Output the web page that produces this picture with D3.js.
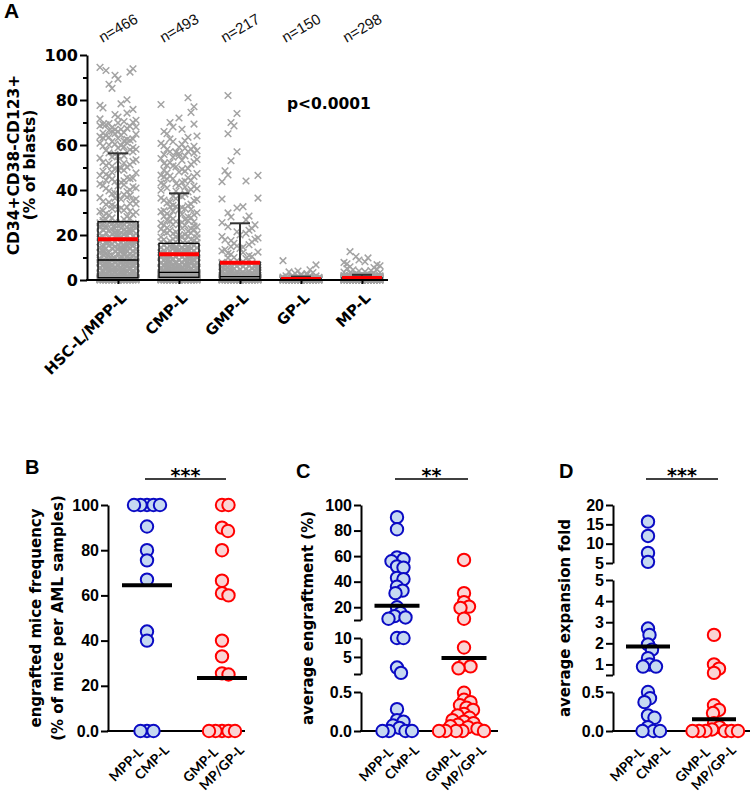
<!DOCTYPE html>
<html><head><meta charset="utf-8">
<script src="https://cdn.jsdelivr.net/npm/d3@7"></script>
<style>body{margin:0;background:#fff}svg{display:block}</style>
</head><body>
<script>
// ---------------- DATA : panel A ----------------
const catsA = ["HSC-L/MPP-L","CMP-L","GMP-L","GP-L","MP-L"];
const nA = ["n=466","n=493","n=217","n=150","n=298"];
const ticksA = [0,20,40,60,80,100];
const minorA = [10,30,50,70,90];
const boxQ1 = [1,1.2,0.3,0.05,0.1];
const boxMed = [8.9,3.4,1.5,0.2,0.3];
const boxQ3 = [25.9,16.3,8,0.7,1];
const whiskHi = [56.3,38.5,25.2,1.5,2.3];
const meanA = [18.1,11.4,7.7,0.5,0.9];
const pValue = "p<0.0001";

const hscL = [
0,0,0,0,0,0,0,0,0,0,0,0,0,0,0,0,0,0,
0.1,0.1,0.1,0.1,0.1,0.1,0.1,0.1,0.1,
0.2,0.2,0.2,0.2,0.2,0.2,0.2,0.2,0.2,0.2,
0.3,0.3,0.3,0.3,0.3,0.3,0.3,0.3,0.3,
0.4,0.4,0.4,0.4,0.4,0.4,0.4,0.4,0.4,0.4,
0.5,0.5,0.5,0.5,0.5,0.5,0.5,0.5,0.5,0.5,0.5,
0.6,0.6,0.6,0.6,0.6,0.6,0.6,0.6,0.6,
0.7,0.7,0.7,0.7,0.7,0.7,0.7,0.7,0.7,0.7,
0.8,0.8,0.8,0.8,0.8,0.8,0.8,0.8,0.8,
0.9,0.9,0.9,0.9,0.9,0.9,0.9,0.9,0.9,0.9,
1,1,1,1,1,1,1,1,1,1,
1.2,1.3,1.4,1.5,1.5,1.7,1.8,1.9,2,2.1,2.2,2.3,2.5,2.6,2.7,2.8,3,3.1,3.2,3.3,
3.4,3.6,3.7,3.8,3.9,4,4.1,4.2,4.4,4.5,4.6,4.7,4.8,5,5.1,5.2,5.3,5.4,5.6,5.7,
5.8,5.9,6,6.1,6.3,6.4,6.5,6.6,6.7,6.9,7,7.1,7.2,7.3,7.5,7.6,7.7,7.8,7.9,8,
8.1,8.3,8.4,8.5,8.6,8.7,8.8,8.9,1.1,1.6,2.4,2.9,3.5,4.3,4.9,5.5,6.2,6.8,7.4,8.2,
1.8,2.5,3.4,4.2,5,5.7,6.4,7.2,8.1,8.9,
9.1,9.3,9.5,9.8,10,10.2,10.5,10.7,11,11.3,11.5,11.8,12,12.3,12.6,12.9,13.1,13.4,13.7,14,
14.2,14.5,14.8,15,15.3,15.6,15.9,16.1,16.4,16.7,17,17.2,17.5,17.8,18,18.3,18.6,18.9,19.1,19.4,
19.7,20,20.2,20.5,20.8,21,21.3,21.6,21.9,22.1,22.4,22.7,23,23.2,23.5,23.8,24,24.3,24.6,24.9,
25.1,25.4,25.7,26,9.6,10.4,11.2,12.1,13,13.8,14.6,15.5,16.3,17.1,18,18.8,19.6,20.5,21.4,22.2,
23.1,23.9,24.8,25.6,9.4,10.9,12.5,14.1,15.8,17.3,19,20.6,22.3,23.9,25.5,10.1,11.9,13.6,15.4,17.2,
19.3,21.1,22.9,24.7,11.4,14.4,18.2,21.8,25.2,12.8,16.9,20.9,24.4,13.3,16.6,19.9,23.4,
26.4,27,27.6,28.2,28.9,29.5,30.1,30.8,31.4,32,32.7,33.3,34,34.6,35.3,36,36.6,37.3,38,38.6,
39.3,40,40.7,41.4,42,42.7,43.4,44.1,44.8,45.5,46.2,46.9,47.6,48.3,49,49.7,50.5,51.2,51.9,52.7,
53.4,54.2,55,55.8,27.3,29.1,31,33.6,35.9,38.3,40.9,43.7,46.5,49.4,52.3,55.2,28,30.4,32.4,34.9,
37.6,41.8,45,48.8,53,26.9,31.7,36.3,44.3,50.9,
30.5,33.8,36.8,39.6,42.3,45.3,47.9,50.2,52,54.7,56.9,57.9,58.9,59.5,60.8,61.8,62.5,63.5,64.1,64.8,
65.3,66,67,67.8,68.3,69,69.5,70.1,
56.5,57,57.6,58.1,58.7,59.2,59.8,60.4,61,61.5,62.1,62.7,63.2,63.8,64.4,65,65.6,66.2,66.8,67.4,
68,68.6,69.2,69.8,70.4,71,71.6,72.4,73.5,74.2,75.8,76.5,77.6,78.3,80.1,85.2,87,89.3,91,92.4,
93.1,93.9,94.5,66.5,63,60
];

const cmpL = [
0,0,0,0,0,0,0,0,0,0,0,0,0,0,0,0,0,0,0,0,0,0,
0.1,0.1,0.1,0.1,0.1,0.1,0.1,0.1,0.1,0.1,
0.2,0.2,0.2,0.2,0.2,0.2,0.2,0.2,0.2,0.2,
0.3,0.3,0.3,0.3,0.3,0.3,0.3,0.3,0.3,0.3,
0.4,0.4,0.4,0.4,0.4,0.4,0.4,0.4,0.4,0.4,
0.5,0.5,0.5,0.5,0.5,0.5,0.5,0.5,0.5,0.5,
0.6,0.6,0.6,0.6,0.6,0.6,0.6,0.6,0.6,
0.7,0.7,0.7,0.7,0.7,0.7,0.7,0.7,0.7,
0.8,0.8,0.8,0.8,0.8,0.8,0.8,0.8,0.8,
0.9,0.9,0.9,0.9,0.9,0.9,0.9,0.9,0.9,
1,1,1,1,1,1,1,1,1,
1.1,1.1,1.1,1.1,1.1,1.1,
1.2,1.2,1.2,1.2,1.3,1.3,1.3,1.3,1.4,1.4,1.4,1.4,1.5,1.5,1.5,1.5,
1.6,1.6,1.6,1.6,1.7,1.7,1.7,1.7,1.8,1.8,1.8,1.8,
1.9,1.9,1.9,1.9,1.9,1.9,1.9,
2,2,2,2,2,2,2,
2.1,2.1,2.1,2.1,2.1,2.1,
2.2,2.2,2.2,2.2,2.2,2.2,
2.3,2.3,2.3,2.3,2.3,2.3,
2.4,2.4,2.4,2.4,2.4,2.4,
2.5,2.5,2.5,2.5,2.5,2.5,
2.6,2.6,2.6,2.6,2.6,
2.7,2.7,2.7,2.7,2.7,
2.8,2.8,2.8,2.8,2.8,
2.9,2.9,2.9,2.9,2.9,
3,3,3,3,3,3.2,3.3,
3.5,3.6,3.7,3.8,3.9,4,4.1,4.2,4.3,4.4,4.5,4.6,4.7,4.8,4.9,5,5.1,5.2,5.3,5.5,
5.6,5.7,5.8,6,6.1,6.2,6.3,6.5,6.6,6.7,6.9,7,7.1,7.3,7.4,7.5,7.7,7.8,8,8.1,
8.2,8.4,8.5,8.7,8.8,9,9.1,9.3,9.4,9.6,9.7,9.9,10,10.2,10.4,10.5,10.7,10.8,11,11.2,
11.3,11.5,11.7,11.8,12,12.2,12.4,12.5,12.7,12.9,13.1,13.2,13.4,13.6,13.8,14,14.2,14.3,14.5,14.7,
14.9,15.1,15.3,15.5,15.7,15.9,16.1,16.3,3.6,4.2,4.9,5.4,6.4,7.2,8.3,9.5,10.6,11.9,
13,14.4,15.6,3.9,4.4,5.9,6.8,8.6,10.1,12.1,14.1,3.7,4.6,5.2,6.2,7.6,9.2,11.4,13.5,15.2,
4.1,5.8,7.9,10.9,13.9,
16.6,17,17.3,17.7,18,18.4,18.7,19.1,19.5,19.8,20.2,20.6,20.9,21.3,21.7,22,22.4,22.8,23.2,23.6,
24,24.4,24.8,25.2,25.6,26,26.4,26.8,27.2,27.7,28.1,28.5,29,29.4,29.9,30.3,30.8,31.2,31.7,32.2,
32.7,33.2,33.7,34.2,34.7,35.3,35.8,36.4,37,37.6,38.2,17.5,19.3,21,22.6,24.2,26.2,28.3,30.6,33,
35.5,18.2,20.4,23,25.9,29.2,32.5,36.1,17.9,21.5,26.6,31.4,37.3,19.6,24.6,
39.5,40.2,41.7,42.4,43.1,44,45.4,46.2,47.6,49.2,50.7,52.2,53.6,55,56.8,58.2,59.4,60.7,61.9,63.4,
40.9,46,51.4,57.1,
81,78,77,74.5,72,70,69.3,68,67,66,65,64,62.7,61.5,60.3,59.7,59,58.5,58,57.5,
57,56.4,55.8,55.2,54.6,54,53.2,52.5,51.8,51,50.3,49.6,48.8,48,47.3,46.6,45.8,45,44.3,43.5,
42.8,42,41.3,40.6,39.9,39.2,48.4,44.9,56.2
];

const gmpL = [
0,0,0,0,0,0,0,0,0,0,0,0,0,0,0,0,0,0,0,0,0,0,0,0,
0.1,0.1,0.1,0.1,0.1,0.1,0.1,0.1,0.1,0.1,0.1,0.1,0.1,0.1,0.1,
0.2,0.2,0.2,0.2,0.2,0.2,0.2,0.2,0.2,0.2,0.2,0.2,0.2,0.2,0.2,
0.3,0.3,0.3,0.3,0.3,0.3,0.4,0.4,0.4,0.4,0.4,0.4,0.5,0.5,0.5,0.5,0.5,0.5,
0.6,0.6,0.6,0.6,0.6,0.7,0.7,0.7,0.7,0.7,0.8,0.8,0.8,0.8,0.8,0.9,0.9,0.9,0.9,0.9,
1,1,1,1,1,1.1,1.1,1.1,1.2,1.2,1.2,1.3,1.3,1.3,1.4,1.4,1.4,
1.6,1.7,1.8,1.9,2,2.1,2.3,2.4,2.5,2.7,2.8,3,3.1,3.3,3.4,3.6,3.7,3.9,4,4.2,
4.3,4.5,4.6,4.8,5,5.1,5.3,5.5,5.6,5.8,6,6.2,6.3,6.5,6.7,6.9,7.1,7.3,7.5,7.7,
7.9,1.6,2,2.6,3.2,3.8,4.4,5.2,5.9,6.6,7.4,2.2,4.1,6.1,
8.2,8.6,9,9.5,10,10.4,10.9,11.4,11.9,12.4,12.9,13.5,14,14.6,15.1,15.7,16.3,16.9,17.5,18.1,
18.7,19.3,20,20.7,21.4,22.1,22.9,23.7,24.5,9.8,12.2,14.8,17.8,
82,74,70,68.5,65,57,53,48.5,46.7,46.5,44,43.7,36.4,36,32.6,32,29.8,28.4,28,26.7,25.5
];

const gpL = [
0,0,0,0,0,0,0,0,0,0,0,0,0,0,0,0,0,0,0,0,0,0,0,0,0,0,0,0,0,0,0,0,0,0,0,0,0,
0.1,0.1,0.1,0.1,0.1,0.1,0.1,0.1,0.1,0.1,0.1,0.1,0.1,0.1,0.1,0.1,0.1,0.1,0.1,0.1,
0.2,0.2,0.2,0.2,0.2,0.2,0.2,0.2,0.2,0.2,0.2,0.2,0.2,0.2,0.2,0.2,0.2,
0.3,0.3,0.3,0.3,0.3,0.3,0.3,0.3,0.3,0.3,0.3,0.3,0.3,0.3,
0.4,0.4,0.4,0.4,0.4,0.4,0.4,0.4,0.4,0.4,
0.5,0.5,0.5,0.5,0.5,0.5,0.5,0.5,0.5,
0.6,0.6,0.6,0.6,0.6,0.6,0.7,0.7,0.7,0.7,0.7,0.8,0.8,0.8,0.8,0.8,
0.9,0.9,0.9,0.9,1,1,1,1.1,1.2,1.3,1.4,1.5,
1.6,1.7,1.8,1.9,2.1,2.3,2.5,2.8,3,3.3,3.6,4,4.5,6.7,8.6
];

const mpL = [
0,0,0,0,0,0,0,0,0,0,0,0,0,0,0,0,0,0,0,0,0,0,0,0,0,0,0,0,0,0,
0,0,0,0,0,0,0,0,0,0,0,0,0,0,0,0,0,0,0,0,0,0,0,0,0,0,0,0,0,0,
0.1,0.1,0.1,0.1,0.1,0.1,0.1,0.1,0.1,0.1,0.1,0.1,0.1,0.1,0.1,0.1,0.1,0.1,0.1,0.1,0.1,0.1,0.1,0.1,0.1,
0.2,0.2,0.2,0.2,0.2,0.2,0.2,0.2,0.2,0.2,0.2,0.2,0.2,0.2,0.2,0.2,0.2,0.2,0.2,0.2,0.2,0.2,
0.3,0.3,0.3,0.3,0.3,0.3,0.3,0.3,0.3,0.3,0.3,0.3,0.3,0.3,0.3,0.3,0.3,0.3,0.3,0.3,
0.4,0.4,0.4,0.4,0.4,0.4,0.4,0.4,0.4,0.4,0.4,0.4,0.4,0.4,0.4,0.4,0.4,0.4,
0.5,0.5,0.5,0.5,0.5,0.5,0.5,0.5,0.5,0.5,0.5,0.5,0.5,0.5,0.5,0.5,
0.6,0.6,0.6,0.6,0.6,0.6,0.6,0.6,0.6,0.6,0.6,0.6,0.6,0.6,
0.7,0.7,0.7,0.7,0.7,0.7,0.7,0.7,0.7,0.7,0.7,0.7,0.7,
0.8,0.8,0.8,0.8,0.8,0.8,0.8,0.8,0.8,0.8,0.8,0.8,
0.9,0.9,0.9,0.9,0.9,0.9,0.9,0.9,0.9,0.9,0.9,
1,1,1,1,1,1,1,1,1,1,
1.1,1.1,1.1,1.1,1.1,1.1,1.1,1.1,1.2,1.2,1.2,1.2,1.2,1.2,1.2,
1.3,1.3,1.3,1.3,1.3,1.3,1.4,1.4,1.4,1.4,1.4,1.4,1.5,1.5,1.5,1.5,1.5,
1.6,1.6,1.6,1.6,1.6,1.7,1.7,1.7,1.7,1.8,1.8,1.8,1.8,1.9,1.9,1.9,2,2,2,
2.3,2.4,2.5,2.6,2.8,3,3.1,3.3,3.5,3.7,4,4.2,4.5,4.8,5.1,5.5,5.9,6.3,6.8,7.2,
7.8,8.1,8.9,9.8,10.4,12.6
];
const ptsA = [hscL, cmpL, gmpL, gpL, mpL];

// ---------------- DATA : panels B, C, D ----------------
const groupsBD = ["MPP-L / CMP-L","GMP-L / MP/GP-L"];
const labelLines = [["MPP-L","CMP-L"],["GMP-L","MP/GP-L"]];
const bBlue = [100,100,100,100,100,90.5,80,75.5,67,44,40,0,0,0];
const bRed  = [100,100,90,88.5,80,66.5,61,60,40,33,25.5,25,0,0,0,0,0];
const meanB = [64.5,23.5];
const cBlue = [90.5,81,59,57.5,56,52,51,43,42,36,33,31,20,15.5,13,12,11,10,10,2.2,0.8,0.28,0.14,0.12,0.07,0.04,0,0,0,0];
const cRed  = [57,31,24,20.5,19.5,11,7.5,3,2.5,2,0.49,0.4,0.37,0.33,0.3,0.27,0.22,0.2,0.17,0.14,0.12,0.1,0.08,0.06,0.05,0.03,0,0,0,0,0];
const meanC = [21.2,4.7];
const dBlue = [15.7,12,7.6,5.3,2.7,2.4,1.95,1.7,1.3,1.0,0.9,0.9,0.5,0.42,0.37,0.2,0.17,0.05,0,0,0];
const dRed  = [2.4,1.0,0.8,0.6,0.33,0.27,0.23,0.1,0.05,0.02,0,0,0,0,0,0];
const meanD = [1.85,0.15];
const ticksB = [[0,20,40,60,80,100]];
const tickLabB = [["0.0","20","40","60","80","100"]];
const ticksC = [[0,0.5],[0.5,5,10],[10,20,40,60,80,100]];
const tickLabC = [["0.0","0.5"],["","5","10"],["","20","40","60","80","100"]];
const ticksD = [[0,0.5],[0.5,1,2,3,4,5],[5,10,15,20]];
const tickLabD = [["0.0","0.5"],["","1","2","3","4","5"],["5","10","15","20"]];
const sigB = "***", sigC = "**", sigD = "***";

// ---------------- DRAWING ----------------
const FA = "'DejaVu Sans', Verdana, sans-serif";
const FR = "'Liberation Sans', Arial, sans-serif";
const FL = "Lato, 'Open Sans', sans-serif";
const svg = d3.select("body").append("svg").attr("width",750).attr("height",797);

// ===== Panel A =====
const xA = d3.scalePoint().domain(catsA).range([118,362]);
const yA = d3.scaleLinear().domain([0,100]).range([280,55]);
const gA = svg.append("g");
const offs = [0,6,-6,12,-12,18,-18,3,-3,9,-9,15,-15];
const M = 3.3;
catsA.forEach((c,i)=>{
  const bins = new Map();
  ptsA[i].forEach(v=>{const py=yA(v);const k=Math.round(py/3);if(!bins.has(k))bins.set(k,[]);bins.get(k).push(py);});
  const pts=[];
  for(const [k,arr] of bins) arr.forEach((py,j)=>pts.push([xA(c)+offs[(j+k*5)%offs.length],py]));
  gA.append("g").selectAll("path").data(pts).join("path")
    .attr("d",d=>`M${d[0]-M},${d[1]-M}L${d[0]+M},${d[1]+M}M${d[0]-M},${d[1]+M}L${d[0]+M},${d[1]-M}`)
    .attr("stroke","#a3a3a3").attr("stroke-width",1.5).attr("fill","none");
});
catsA.forEach((c,i)=>{
  const cx=xA(c);
  gA.append("line").attr("x1",cx).attr("x2",cx).attr("y1",yA(boxQ3[i])).attr("y2",yA(whiskHi[i])).attr("stroke","#333").attr("stroke-width",2);
  gA.append("line").attr("x1",cx-10).attr("x2",cx+10).attr("y1",yA(whiskHi[i])).attr("y2",yA(whiskHi[i])).attr("stroke","#333").attr("stroke-width",2);
  gA.append("rect").attr("x",cx-20).attr("width",40).attr("y",yA(boxQ3[i])).attr("height",yA(boxQ1[i])-yA(boxQ3[i]))
    .attr("fill","none").attr("stroke","#000").attr("stroke-width",1.3);
  gA.append("line").attr("x1",cx-20).attr("x2",cx+20).attr("y1",yA(boxMed[i])).attr("y2",yA(boxMed[i])).attr("stroke","#000").attr("stroke-width",1.3);
  gA.append("line").attr("x1",cx-20).attr("x2",cx+20).attr("y1",yA(meanA[i])).attr("y2",yA(meanA[i])).attr("stroke","#ff0000").attr("stroke-width",4);
});
const axA = gA.append("g").attr("transform","translate(87,0)")
  .call(d3.axisLeft(yA).tickValues(ticksA).tickSize(7).tickPadding(2).tickSizeOuter(0));
axA.select(".domain").attr("stroke-width",2);
axA.selectAll(".tick line").attr("stroke-width",2);
axA.selectAll("text").attr("font-family",FA).attr("font-weight","bold").attr("font-size",16).attr("fill","#000");
gA.append("g").attr("transform","translate(87,0)")
  .call(d3.axisLeft(yA).tickValues(minorA).tickSize(4).tickFormat("").tickSizeOuter(0))
  .call(g=>{g.select(".domain").remove();g.selectAll(".tick line").attr("stroke-width",2);});
gA.append("line").attr("x1",86).attr("x2",388).attr("y1",280).attr("y2",280).attr("stroke","#000").attr("stroke-width",2);
const axXA = gA.append("g").attr("transform","translate(0,280)")
  .call(d3.axisBottom(xA).tickSize(4).tickSizeOuter(0));
axXA.select(".domain").remove();
axXA.selectAll(".tick line").attr("stroke-width",2);
axXA.selectAll("text").attr("font-family",FA).attr("font-weight","bold").attr("font-size",15).attr("fill","#000")
  .attr("text-anchor","end").attr("x",0).attr("y",0).attr("dy",0).attr("transform","translate(9,19) rotate(-45)");
gA.selectAll(".nlab").data(catsA).join("text").attr("class","nlab")
  .attr("transform",d=>`translate(${xA(d)},28) rotate(-30)`).attr("text-anchor","middle").attr("dy","0.35em")
  .attr("font-family",FR).attr("font-size",15).attr("fill","#111").text((d,i)=>nA[i]);
gA.append("text").attr("x",287).attr("y",109).attr("font-family",FA).attr("font-weight","bold").attr("font-size",15.5).text(pValue);
gA.append("text").attr("transform","translate(19,165) rotate(-90)").attr("text-anchor","middle")
  .attr("font-family",FA).attr("font-weight","bold").attr("font-size",15.5).text("CD34+CD38-CD123+");
gA.append("text").attr("transform","translate(35,165) rotate(-90)").attr("text-anchor","middle")
  .attr("font-family",FA).attr("font-weight","bold").attr("font-size",15.5).text("(% of blasts)");
svg.append("text").attr("x",4).attr("y",18).attr("font-family",FR).attr("font-weight","bold").attr("font-size",21).text("A");

// ===== Panels B, C, D =====
function swarm(vals, y, cx, d){
  const items = vals.map(v=>({v, y:y(v)})).sort((a,b)=>b.v-a.v);
  const placed=[];
  items.forEach(p=>{
    for(let k=0;k<600;k++){
      const off = k===0?0:(k%2?1:-1)*Math.ceil(k/2)*0.5;
      const x=cx+off;
      if(placed.every(q=>(q.x-x)**2+(q.y-p.y)**2>=d*d)){p.x=x;break;}
    }
    placed.push(p);
  });
  return placed;
}
function circlePanel(cfg){
  const g = svg.append("g");
  const xs = d3.scalePoint().domain(groupsBD).range(cfg.centers);
  const segs = cfg.segs.map(s=>({hi:s.d[1], sc:d3.scaleLinear().domain(s.d).range(s.r)}));
  const y = v=>{for(const s of segs) if(v<=s.hi) return s.sc(v); return segs[segs.length-1].sc(v);};
  segs.forEach((s,i)=>{
    const ax = g.append("g").attr("transform",`translate(${cfg.x0},0)`)
      .call(d3.axisLeft(s.sc).tickValues(cfg.ticks[i]).tickFormat((v,j)=>cfg.labels[i][j]).tickSize(7).tickPadding(2).tickSizeOuter(0));
    ax.select(".domain").attr("stroke-width",2);
    ax.selectAll(".tick line").attr("stroke-width",2);
    ax.selectAll("text").attr("font-family",FR).attr("font-weight","bold").attr("font-size",16).attr("fill","#000");
  });
  g.append("line").attr("x1",cfg.x0-1).attr("x2",cfg.x1).attr("y1",731).attr("y2",731).attr("stroke","#000").attr("stroke-width",2);
  const styles=[{s:"#0b0bc4",f:"#c6d9f1"},{s:"#ff0000",f:"#fad4d4"}];
  [cfg.blue,cfg.red].forEach((vals,gi)=>{
    const pts = swarm(vals,y,xs(groupsBD[gi]),6.5);
    g.append("g").selectAll("circle").data(pts).join("circle")
      .attr("cx",d=>d.x).attr("cy",d=>d.y).attr("r",6.2)
      .attr("fill",styles[gi].f).attr("stroke",styles[gi].s).attr("stroke-width",2);
  });
  groupsBD.forEach((gname,gi)=>{
    const cx=xs(gname);
    g.append("line").attr("x1",cx-cfg.mw).attr("x2",cx+cfg.mw).attr("y1",y(cfg.means[gi])).attr("y2",y(cfg.means[gi]))
      .attr("stroke","#000").attr("stroke-width",4);
    labelLines[gi].forEach((t,li)=>{
      g.append("text").attr("transform",li?`translate(${cx+23},751) rotate(-45)`:`translate(${cx-3},753) rotate(-45)`).attr("text-anchor","end")
        .attr("font-family",FL).attr("font-weight","bold").attr("font-size",13.5).attr("fill","#000").text(t);
    });
  });
  const c1=xs(groupsBD[0]), c2=xs(groupsBD[1]);
  g.append("line").attr("x1",c1-2).attr("x2",c2+4).attr("y1",479).attr("y2",479).attr("stroke","#000").attr("stroke-width",1.5);
  g.append("text").attr("x",(c1+c2)/2+1).attr("y",482).attr("text-anchor","middle").attr("font-family",FA).attr("font-weight","bold").attr("font-size",19).text(cfg.sig);
  cfg.titles.forEach((t,i)=>{
    g.append("text").attr("transform",`translate(${t.x},618) rotate(-90)`).attr("text-anchor","middle")
      .attr("font-family",FA).attr("font-weight","bold").attr("font-size",15).text(t.t);
  });
  svg.append("text").attr("x",cfg.letter[0]).attr("y",cfg.letter[1]).attr("font-family",FR).attr("font-weight","bold").attr("font-size",20).text(cfg.letter[2]);
}
circlePanel({x0:108,x1:245,centers:[147,222],segs:[{d:[0,100],r:[731,505]}],ticks:ticksB,labels:tickLabB,
  blue:bBlue,red:bRed,means:meanB,mw:25,sig:sigB,
  titles:[{x:41,t:"engrafted mice frequency"},{x:63,t:"(% of mice per AML samples)"}],letter:[25,474,"B"]});
circlePanel({x0:361,x1:498,centers:[397,464],segs:[{d:[0,0.5],r:[731,692]},{d:[0.5,10],r:[674,638]},{d:[10,100],r:[620,505]}],
  ticks:ticksC,labels:tickLabC,blue:cBlue,red:cRed,means:meanC,mw:22.5,sig:sigC,
  titles:[{x:313,t:"average engraftment (%)"}],letter:[296,478,"C"]});
circlePanel({x0:613,x1:750,centers:[648,714],segs:[{d:[0,0.5],r:[731,692]},{d:[0.5,5],r:[675,580]},{d:[5,20],r:[563,505]}],
  ticks:ticksD,labels:tickLabD,blue:dBlue,red:dRed,means:meanD,mw:22,sig:sigD,
  titles:[{x:570,t:"average expansion fold"}],letter:[559,478,"D"]});
</script>
</body></html>
